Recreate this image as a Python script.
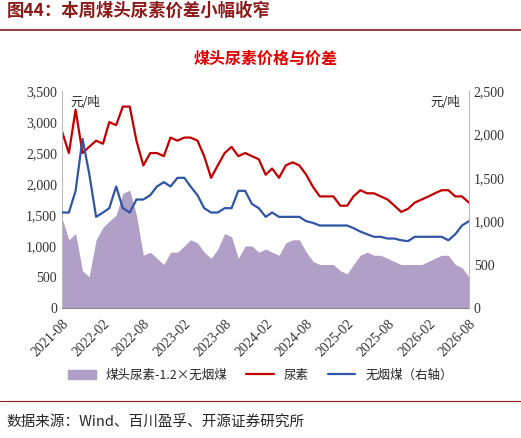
import numpy as np, pandas as pd, seaborn as sns, matplotlib
matplotlib.use("Agg")
import matplotlib.pyplot as plt
from matplotlib.patches import Patch
from matplotlib.lines import Line2D

sns.set_style("white")
plt.rcParams['font.family'] = ['Liberation Serif', 'Noto Sans CJK SC']

urea = [2850,2500,3200,2500,2600,2700,2650,3000,2950,3250,
        3250,2700,2300,2500,2500,2450,2750,2700,2750,2750,
        2700,2450,2100,2300,2500,2600,2450,2500,2450,2400,
        2150,2250,2100,2300,2350,2300,2150,1950,1800,1800,
        1800,1650,1650,1800,1900,1850,1850,1800,1750,1650,
        1550,1600,1700,1750,1800,1850,1900,1900,1800,1800,1700]
coal = [1100,1100,1350,1950,1550,1050,1100,1150,1400,1150,
        1100,1250,1250,1300,1400,1450,1400,1500,1500,1400,
        1300,1150,1100,1100,1150,1150,1350,1350,1200,1150,
        1050,1100,1050,1050,1050,1050,1000,980,950,950,
        950,950,950,920,880,850,820,820,800,800,
        780,770,820,820,820,820,820,780,850,950,1000]
spread = [1450,1100,1200,600,500,1100,1300,1400,1500,1850,
          1900,1500,850,900,800,700,900,900,1000,1100,
          1050,900,800,950,1200,1150,800,1000,1000,900,
          950,900,850,1050,1100,1100,900,750,700,700,
          700,600,550,700,850,900,850,850,800,750,
          700,700,700,700,750,800,850,850,700,650,500]
dates = pd.date_range("2021-08-01", periods=len(urea), freq="MS")
df = pd.DataFrame({"date": dates, "urea": urea, "coal": coal, "spread": spread})
ticks = pd.date_range("2021-08-01", "2026-08-01", freq="6MS")

fig = plt.figure(figsize=(5.21, 4.38), dpi=100)
ax = fig.add_axes([0.119, 0.297, 0.781, 0.495])
ax.fill_between(df["date"], df["spread"], color="#b09fc6", lw=0)
sns.lineplot(data=df, x="date", y="urea", ax=ax, color="#c00000", lw=1.6)
ax2 = ax.twinx()
sns.lineplot(data=df, x="date", y="coal", ax=ax2, color="#2f55a4", lw=1.6)
ax.set_ylim(0, 3500); ax2.set_ylim(0, 2500)
ax.set_yticks(range(0, 3501, 500)); ax2.set_yticks(range(0, 2501, 500))
ax.yaxis.set_major_formatter(matplotlib.ticker.StrMethodFormatter("{x:,.0f}"))
ax2.yaxis.set_major_formatter(matplotlib.ticker.StrMethodFormatter("{x:,.0f}"))
ax.set_xlim(dates[0], dates[-1])
ax.set_xticks(ticks)
ax.set_xticklabels([d.strftime("%Y-%m") for d in ticks], rotation=45, ha="right", rotation_mode="anchor")
for a in (ax, ax2):
    a.set_xlabel(""); a.set_ylabel("")
    a.tick_params(labelsize=10, length=0, colors="#333333")
    for s in a.spines.values():
        s.set_visible(False)
ax.spines["bottom"].set_visible(True); ax.spines["bottom"].set_color("#888888")
ax.tick_params(axis="x", length=3, direction="out")
ax.spines["left"].set_visible(True); ax.spines["left"].set_color("#bbbbbb")
ax2.spines["right"].set_visible(True); ax2.spines["right"].set_color("#bbbbbb")
ax.text(0.02, 0.93, "元/吨", transform=ax.transAxes, fontsize=9, family=['Noto Sans CJK SC'])
ax2.text(0.98, 0.93, "元/吨", transform=ax.transAxes, fontsize=9, ha="right", family=['Noto Sans CJK SC'])

fig.text(0.012, 0.965, "图44：本周煤头尿素价差小幅收窄", fontsize=12.5, weight="bold", color="#8b1a1a", family=['Noto Sans CJK SC'])
fig.add_artist(Line2D([0.0, 1.0], [0.932, 0.932], color="#8b1a1a", lw=1.2))
fig.text(0.51, 0.855, "煤头尿素价格与价差", fontsize=11.5, weight="bold", color="#e00000", ha="center", family=['Noto Sans CJK SC'])
handles = [Patch(color="#b09fc6"), Line2D([], [], color="#c00000", lw=1.6), Line2D([], [], color="#2f55a4", lw=1.6)]
fig.legend(handles, ["煤头尿素-1.2×无烟煤", "尿素", "无烟煤（右轴）"], loc="center", bbox_to_anchor=(0.5, 0.143),
           ncol=3, frameon=False, prop={"family": ['Noto Sans CJK SC'], "size": 9}, handlelength=2.2, columnspacing=1.5)
fig.add_artist(Line2D([0.0, 1.0], [0.085, 0.085], color="#8b1a1a", lw=0.8))
fig.text(0.012, 0.025, "数据来源：Wind、百川盈孚、开源证券研究所", fontsize=10.5, family=['Noto Sans CJK SC'])
fig.savefig("out.png", dpi=100)
